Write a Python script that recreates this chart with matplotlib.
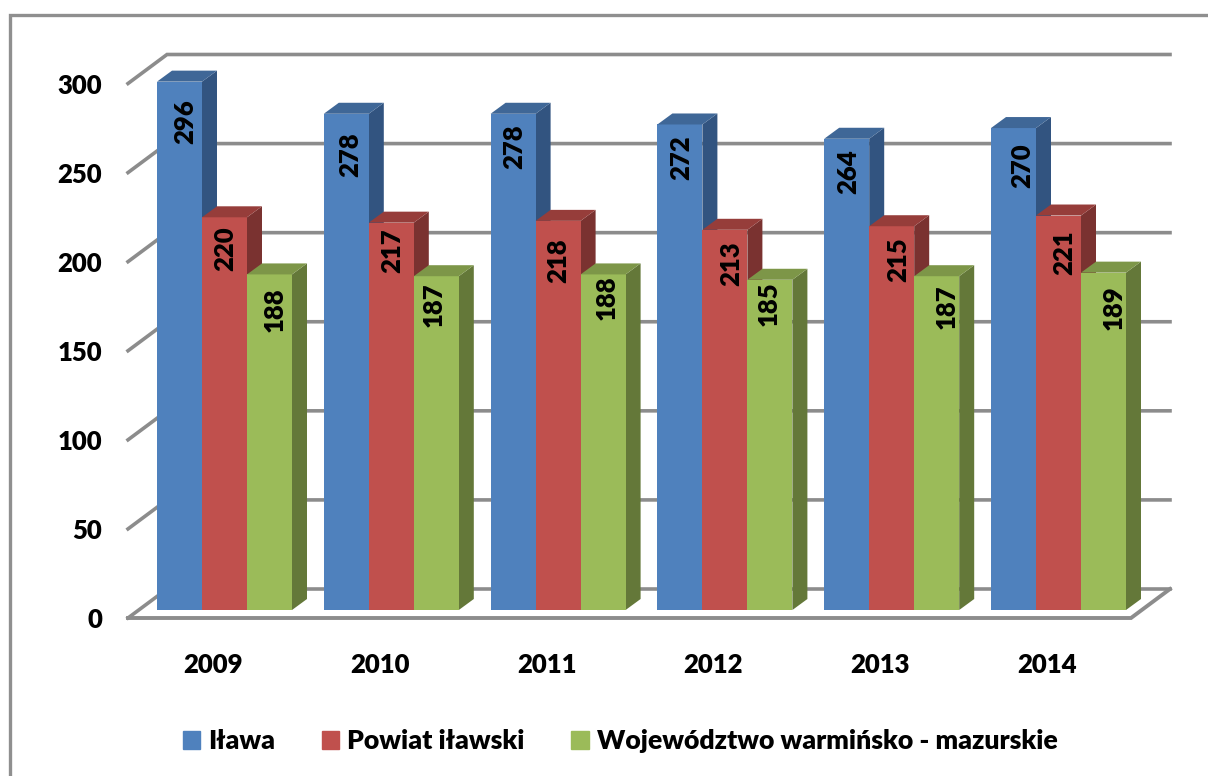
import matplotlib.pyplot as plt
from matplotlib.patches import Polygon, Patch

plt.rcParams['font.family'] = ['Lato', 'DejaVu Sans']
plt.rcParams['font.weight'] = 800

years = ['2009', '2010', '2011', '2012', '2013', '2014']
ticks = [0, 50, 100, 150, 200, 250, 300]
ilawa = [296, 278, 278, 272, 264, 270]
powiat = [220, 217, 218, 213, 215, 221]
wojewodztwo = [188, 187, 188, 185, 187, 189]
names = ['Iława', 'Powiat iławski', 'Województwo warmińsko - mazurskie']

# front, top, side colours
colors = [('#4F81BD', '#3F6797', '#325480'),
          ('#C0504D', '#963D3A', '#7A3230'),
          ('#9BBB59', '#7D9648', '#647839')]
grid_col = '#8C8C8C'

W, H = 1208, 776
px_x = 166.8          # pixels per group
px_y = 1.785          # pixels per unit
x0 = 224.5            # pixel of first group centre
y0 = 610              # pixel of bar base

fig = plt.figure(figsize=(W / 100, H / 100), dpi=100)
ax = fig.add_axes([0, 0, 1, 1])
ax.set_xlim(-x0 / px_x, (W - x0) / px_x)
ax.set_ylim(-(H - y0) / px_y, y0 / px_y)
ax.axis('off')


def dx(p):
    return p / px_x


def dy(p):
    return p / px_y


# outer frame
frame_x = [dx(10) - x0 / px_x, dx(10) - x0 / px_x, (W - x0) / px_x]
frame_y = [-(H - y0) / px_y, dy(y0 - 15), dy(y0 - 15)]
ax.plot(frame_x, frame_y, color='#8F8F8F', lw=2.4, solid_joinstyle='miter', zorder=1)

# walls: slanted bit + back line
left = dx(128 - x0)
right = dx(1131 - x0)
slant_x = dx(39)
slant_y = dy(29)
base = dy(y0 - 618)
for t in ticks:
    y = base + t * 534.5 / 300 / px_y
    ax.plot([left, left + slant_x, right + slant_x],
            [y, y + slant_y, y + slant_y],
            color=grid_col, lw=2.6, solid_joinstyle='miter', zorder=1)
    ax.text(dx(102 - x0), y - dy(2.5), str(t), ha='right', va='center', fontsize=18.5, color='black')
# floor
ax.plot([left, right, right + slant_x], [base, base, base + slant_y],
        color=grid_col, lw=2.8, solid_joinstyle='miter', zorder=1)

# bars
w = 45 / px_x
depth_x = dx(15)
depth_y = dy(11)
series = [ilawa, powiat, wojewodztwo]
for i, vals in enumerate(series):
    for g, v in enumerate(vals):
        l = g + (i - 1.5) * w
        r = l + w
        ax.bar(l, v, width=w, align='edge', color=colors[i][0], zorder=3 + g * 3 + i)
        ax.add_patch(Polygon([(l, v), (r, v), (r + depth_x, v + depth_y), (l + depth_x, v + depth_y)],
                             closed=True, fc=colors[i][1], ec='none', zorder=3 + g * 3 + i))
        ax.add_patch(Polygon([(r, 0), (r, v), (r + depth_x, v + depth_y), (r + depth_x, depth_y)],
                             closed=True, fc=colors[i][2], ec='none', zorder=2.5 + g * 3 + i))

# value labels were placed by hand in the original, so pixel centres per bar
label_px = [[(185, 122), (225, 249), (275, 310)],
            [(350, 155), (392, 251), (434, 305)],
            [(514, 147), (558, 261), (607, 298)],
            [(681, 158), (731, 264), (769, 304)],
            [(848, 172), (898, 260), (947, 307)],
            [(1022, 166), (1064, 253), (1114, 308)]]
for i, vals in enumerate(series):
    for g, v in enumerate(vals):
        px, py = label_px[g][i]
        ax.text(dx(px - x0), dy(y0 - py), str(v), rotation=90, ha='center', va='center',
                fontsize=18.5, color='black', zorder=50)

for g, yr in enumerate(years):
    ax.text(g - dx(11.5), dy(y0 - 665), yr, ha='center', va='center', fontsize=18.5, color='black')

handles = [Patch(color=colors[i][0], label=names[i]) for i in range(3)]
ax.legend(handles=handles, ncol=3, frameon=False, fontsize=19.2,
          loc='center', bbox_to_anchor=(620 / W, 1 - 741 / H),
          handlelength=0.65, handleheight=0.65, handletextpad=0.3, columnspacing=1.75,
          labelcolor='black')

fig.savefig('out.png', dpi=100)
